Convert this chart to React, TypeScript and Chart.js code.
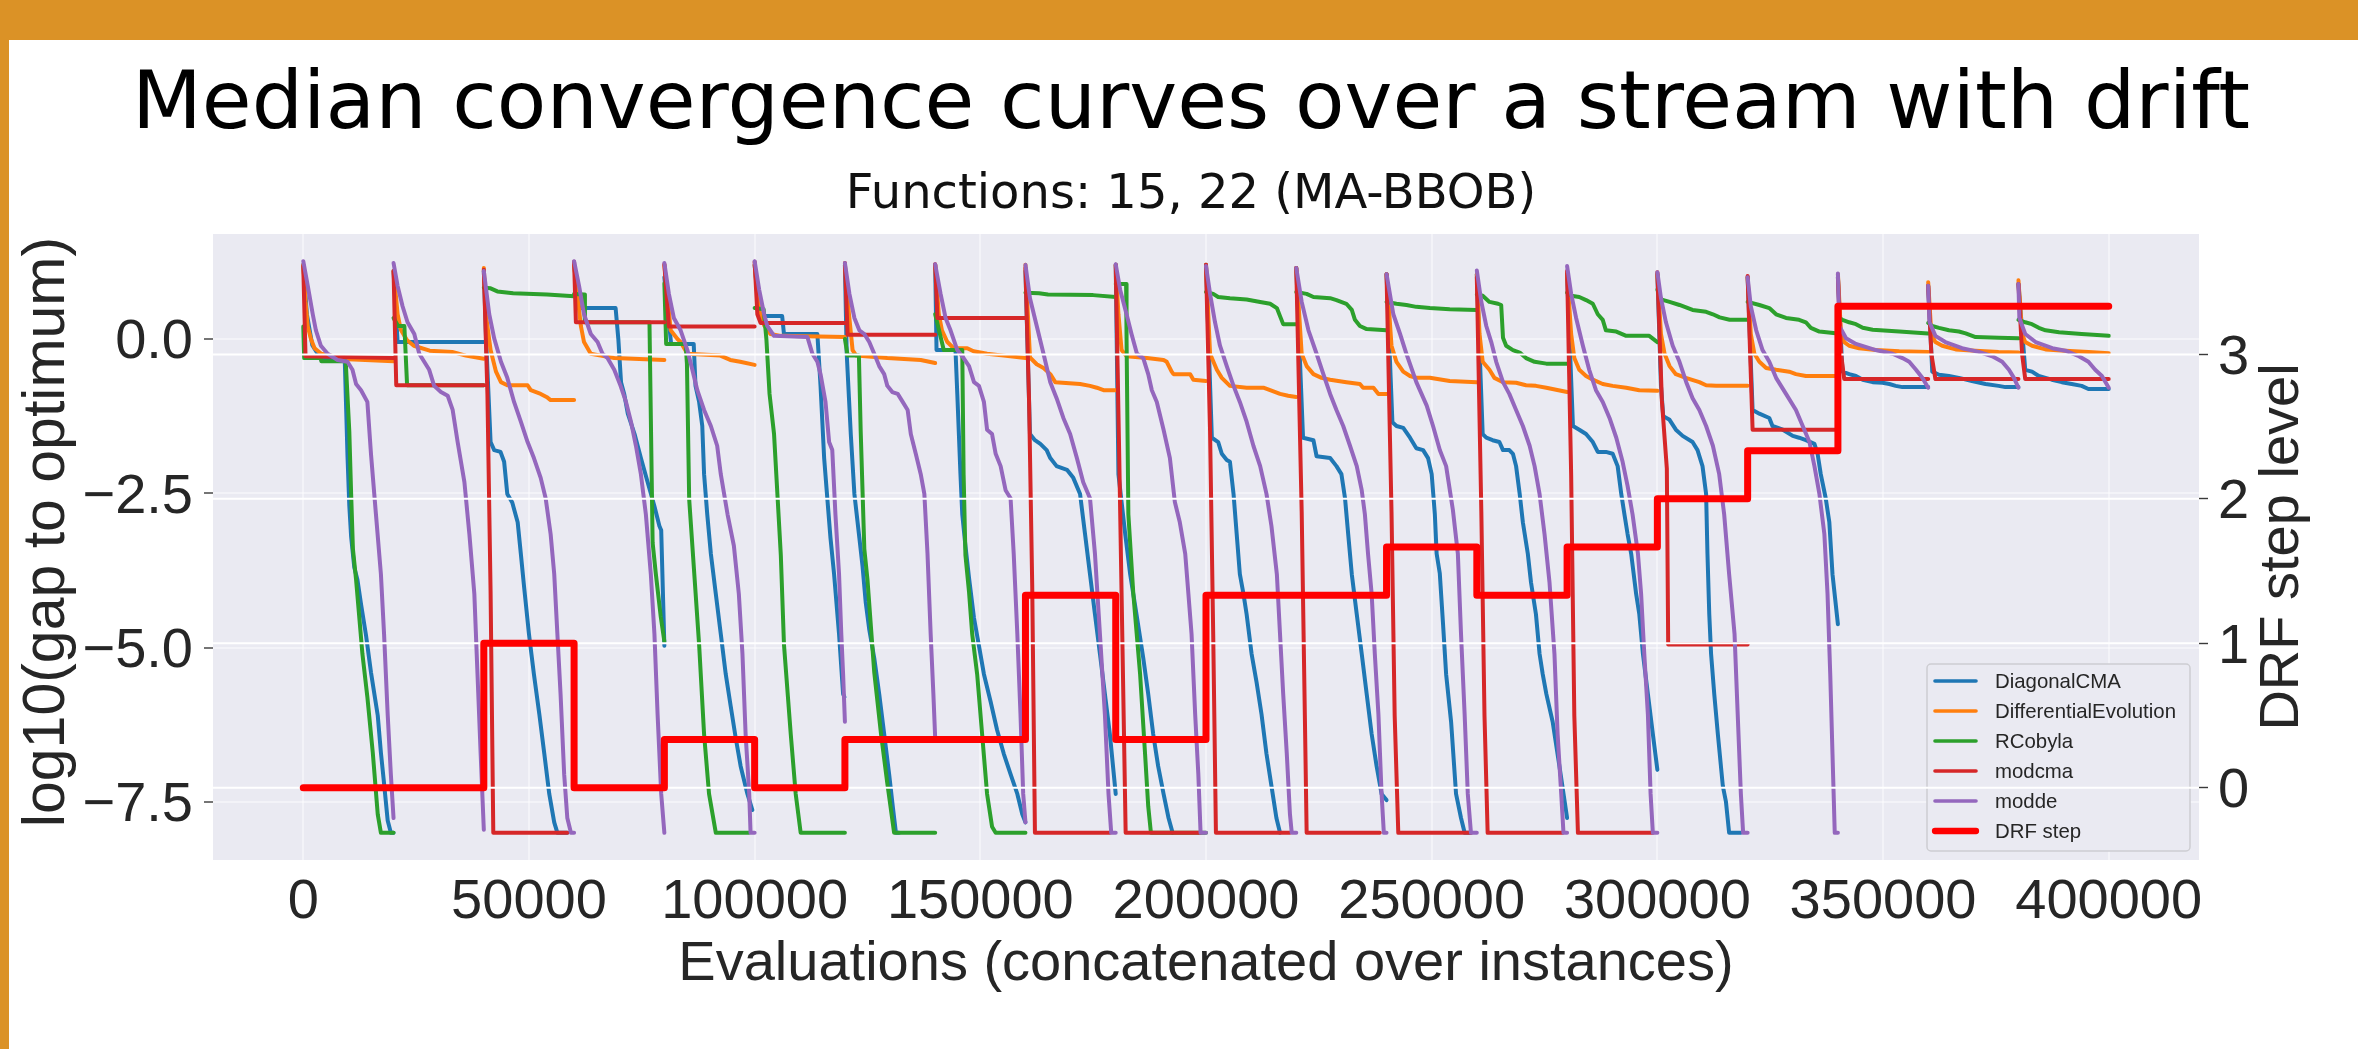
import { useEffect, useRef } from 'react';
import { Chart, registerables } from 'chart.js';

Chart.register(...registerables);

const W = 2358;
const H = 1049;

// ---------------- data ----------------
const INSTANCE_BUDGET = 20000; // evaluations per instance (20 instances concatenated)
const xTickValues = [0, 50000, 100000, 150000, 200000, 250000, 300000, 350000, 400000];
const gapTickValues = [-7.5, -5.0, -2.5, 0.0];
const drfTickValues = [0, 1, 2, 3];

// DRF step level per instance
const drfLevels = [0, 0, 1, 0, 1 / 3, 0, 1 / 3, 1 / 3, 4 / 3, 1 / 3, 4 / 3, 4 / 3, 5 / 3, 4 / 3, 5 / 3, 2, 7 / 3, 10 / 3, 10 / 3, 10 / 3];

// median log10(gap) curves, one list of [evaluations within instance, value] per instance
const diagonalCMA = [
  [[0, 1.2], [800, 0.4], [2000, -0.1], [4000, -0.33], [9200, -0.36], [9800, -1.9], [10200, -2.7], [10600, -3.2], [11300, -3.7], [12000, -3.9], [12800, -4.3], [13900, -4.8], [15000, -5.4], [16500, -6.1], [17200, -6.7], [17900, -7.2], [18700, -7.8], [19400, -8.0], [20000, -8.0]],
  [[0, 1.1], [900, -0.05], [20000, -0.05]],
  [[0, 1.1], [500, 0.0], [1500, -1.67], [2300, -1.8], [3700, -1.83], [4500, -1.99], [5200, -2.51], [6300, -2.65], [7500, -2.97], [8200, -3.48], [8900, -4.0], [10000, -4.78], [11100, -5.43], [12300, -6.08], [13400, -6.72], [14500, -7.37], [15600, -7.83], [16300, -8.0], [18500, -8.0]],
  [[0, 1.2], [1100, 0.5], [9200, 0.5], [9800, 0.0], [10400, -0.7], [11100, -0.89], [11900, -1.21], [13400, -1.54], [14800, -1.93], [16300, -2.32], [17800, -2.71], [18900, -3.03], [19300, -3.1], [20000, -4.97]],
  [[0, 1.0], [1500, -0.08], [6500, -0.08], [6900, -0.76], [7700, -1.02], [8400, -1.41], [8800, -2.19], [9500, -2.84], [10300, -3.48], [11400, -4.13], [12500, -4.78], [13600, -5.43], [14700, -5.95], [15800, -6.46], [16900, -6.92], [18400, -7.37], [19500, -7.63]],
  [[0, 1.2], [1000, 0.37], [6100, 0.37], [6500, 0.08], [13900, 0.08], [14600, -0.76], [15400, -1.93], [16100, -2.58], [16800, -3.22], [17600, -3.81], [18700, -4.78], [19600, -5.75], [19900, -5.8]],
  [[0, 1.2], [400, -0.24], [1300, -1.54], [2100, -2.51], [3200, -3.22], [3900, -3.68], [4600, -4.26], [5400, -4.71], [6500, -5.17], [7600, -5.75], [8700, -6.4], [9800, -7.05], [10600, -7.57], [11300, -8.0], [12000, -8.0]],
  [[0, 1.2], [300, -0.18], [4500, -0.18], [4900, -0.89], [5600, -2.19], [6000, -2.84], [6700, -3.35], [7500, -3.87], [8600, -4.52], [9700, -4.97], [10800, -5.43], [12300, -5.88], [13700, -6.33], [15200, -6.72], [16700, -7.05], [18200, -7.37], [19300, -7.7], [20000, -7.83]],
  [[0, 1.1], [1000, -1.54], [2100, -1.64], [3300, -1.7], [4700, -1.8], [5500, -1.93], [6900, -2.06], [9200, -2.12], [10600, -2.25], [12100, -2.51], [13200, -3.16], [14300, -3.81], [15400, -4.46], [16500, -5.1], [17600, -5.75], [18700, -6.4], [20000, -7.37]],
  [[0, 1.2], [600, -2.19], [2100, -3.16], [3200, -3.81], [4600, -4.46], [6100, -5.17], [7200, -5.75], [8300, -6.4], [9400, -6.92], [10600, -7.37], [11700, -7.76], [12600, -8.0]],
  [[0, 1.2], [1300, -1.6], [2700, -1.67], [3500, -1.86], [4600, -1.96], [5300, -1.99], [6100, -2.51], [6800, -3.16], [7500, -3.81], [8300, -4.13], [9000, -4.46], [10100, -5.1], [11200, -5.56], [12300, -6.08], [13400, -6.72], [14500, -7.24], [15600, -7.76], [16400, -8.0]],
  [[0, 1.15], [1500, -1.6], [3800, -1.64], [4500, -1.9], [7500, -1.93], [8900, -2.06], [10000, -2.19], [10800, -2.58], [11500, -3.16], [12300, -3.81], [13400, -4.46], [14500, -5.1], [15600, -5.75], [16700, -6.4], [17800, -6.92], [18900, -7.37], [20000, -7.47]],
  [[0, 1.05], [1300, -1.35], [2200, -1.41], [3700, -1.44], [5200, -1.6], [6600, -1.77], [8100, -1.8], [9200, -1.93], [10000, -2.19], [10700, -2.84], [11100, -3.48], [11800, -3.8], [12500, -4.6], [13200, -5.43], [14300, -6.2], [15400, -7.37], [16500, -7.76], [17300, -8.0], [18700, -8.0]],
  [[0, 1.05], [1300, -1.54], [2100, -1.6], [3500, -1.64], [5000, -1.67], [5800, -1.8], [7200, -1.8], [8000, -1.86], [8700, -2.06], [9500, -2.51], [10200, -2.97], [11300, -3.48], [12000, -3.94], [13100, -4.46], [13900, -5.1], [14600, -5.43], [15400, -5.75], [16800, -6.2], [18300, -6.92], [20000, -7.76]],
  [[0, 1.05], [1300, -1.41], [2700, -1.47], [4200, -1.54], [5700, -1.67], [6800, -1.83], [8600, -1.83], [10100, -1.86], [11200, -2.06], [12000, -2.51], [12700, -2.84], [13400, -3.16], [14200, -3.48], [15300, -4.13], [16000, -4.46], [16800, -5.1], [17900, -5.75], [19000, -6.4], [20000, -6.98]],
  [[0, 1.05], [800, -0.76], [1300, -1.25], [2700, -1.31], [4100, -1.47], [5600, -1.57], [7800, -1.67], [8900, -1.8], [10000, -2.06], [10800, -2.51], [11100, -3.48], [11500, -4.46], [11900, -5.1], [12600, -5.75], [13400, -6.4], [14500, -7.24], [15200, -7.5], [15900, -8.0], [18500, -8.0]],
  [[0, 1.0], [1100, -1.15], [2600, -1.21], [4800, -1.28], [5500, -1.41], [7800, -1.47], [10000, -1.57], [11400, -1.6], [12900, -1.64], [14800, -1.7], [15500, -1.86], [16200, -2.19], [17300, -2.58], [18100, -2.97], [18800, -3.81], [20000, -4.62]],
  [[0, 1.0], [1000, -0.53], [2500, -0.57], [4000, -0.6], [5500, -0.66], [7700, -0.7], [9900, -0.71], [11400, -0.73], [12800, -0.76], [14300, -0.78], [20000, -0.78]],
  [[0, 0.86], [900, -0.53], [2400, -0.58], [4600, -0.6], [6800, -0.63], [9700, -0.68], [12700, -0.73], [15600, -0.76], [17100, -0.78], [20000, -0.78]],
  [[0, 0.89], [1500, -0.5], [3000, -0.53], [4500, -0.6], [6000, -0.63], [7400, -0.66], [9600, -0.7], [11800, -0.73], [14000, -0.76], [15500, -0.81], [20000, -0.81]],
];

const differentialEvolution = [
  [[0, 1.2], [500, 0.6], [1000, 0.2], [1700, 0.0], [2500, -0.15], [4000, -0.24], [10000, -0.33], [20000, -0.36]],
  [[0, 1.1], [900, 0.4], [1600, 0.15], [3000, -0.02], [4500, -0.11], [8000, -0.19], [13000, -0.21], [16000, -0.27], [20000, -0.32]],
  [[0, 1.15], [450, 0.4], [1500, -0.18], [2700, -0.53], [3800, -0.7], [5200, -0.75], [9700, -0.75], [10400, -0.83], [12600, -0.89], [14100, -0.95], [14800, -0.99], [20000, -0.99]],
  [[0, 1.2], [1500, 0.21], [2200, -0.05], [3700, -0.24], [5900, -0.27], [8900, -0.31], [20000, -0.34]],
  [[0, 1.2], [1400, 0.14], [2900, 0.0], [3600, -0.05], [5100, -0.24], [12400, -0.27], [14600, -0.34], [16800, -0.37], [20000, -0.42]],
  [[0, 1.2], [1000, 0.47], [2100, 0.22], [3500, 0.08], [5800, 0.05], [20000, 0.03]],
  [[0, 1.2], [900, 0.4], [1700, -0.18], [2500, -0.27], [9400, -0.31], [16800, -0.34], [20000, -0.39]],
  [[0, 1.2], [800, 0.4], [1500, 0.14], [2700, -0.05], [4100, -0.15], [7100, -0.15], [8500, -0.2], [11500, -0.24], [15200, -0.27], [20000, -0.31]],
  [[0, 1.2], [1000, -0.3], [2500, -0.41], [4000, -0.47], [5500, -0.57], [6600, -0.7], [12100, -0.73], [14300, -0.76], [15800, -0.79], [17300, -0.83], [20000, -0.83]],
  [[0, 1.2], [600, 0.4], [1300, -0.18], [2400, -0.28], [6900, -0.31], [10600, -0.34], [11300, -0.37], [12400, -0.53], [12800, -0.57], [16500, -0.57], [17200, -0.66], [20000, -0.68]],
  [[0, 1.2], [900, -0.24], [2400, -0.5], [3500, -0.63], [5300, -0.76], [9000, -0.79], [12700, -0.79], [14200, -0.83], [16400, -0.89], [18200, -0.92], [20000, -0.94]],
  [[0, 1.15], [1200, -0.24], [2300, -0.44], [3800, -0.57], [5600, -0.63], [7500, -0.66], [11100, -0.7], [14100, -0.73], [14800, -0.79], [17100, -0.79], [18200, -0.89], [20000, -0.89]],
  [[0, 1.05], [1100, -0.11], [2200, -0.37], [3700, -0.53], [5200, -0.6], [6600, -0.63], [9600, -0.63], [14000, -0.68], [20000, -0.7]],
  [[0, 1.05], [600, 0.08], [1300, -0.37], [2800, -0.5], [3900, -0.63], [5800, -0.7], [8700, -0.71], [10900, -0.75], [13100, -0.76], [15400, -0.79], [20000, -0.86]],
  [[0, 1.05], [900, 0.08], [1600, -0.31], [2700, -0.5], [4200, -0.6], [5700, -0.66], [7900, -0.73], [10100, -0.76], [13100, -0.79], [16000, -0.83], [20000, -0.84]],
  [[0, 1.05], [800, 0.08], [1600, -0.24], [2700, -0.44], [4100, -0.57], [6300, -0.63], [9300, -0.7], [10800, -0.75], [13000, -0.76], [20000, -0.76]],
  [[0, 1.0], [700, 0.08], [1500, -0.24], [2600, -0.37], [4100, -0.47], [6300, -0.5], [9200, -0.53], [10700, -0.57], [12900, -0.6], [20000, -0.6]],
  [[0, 1.05], [700, 0.08], [1400, -0.05], [2500, -0.11], [4700, -0.15], [8400, -0.18], [13600, -0.2], [20000, -0.21]],
  [[0, 0.92], [700, 0.08], [1600, -0.05], [3100, -0.11], [6100, -0.17], [10500, -0.19], [15600, -0.21], [20000, -0.22]],
  [[0, 0.95], [800, 0.08], [1500, -0.05], [3000, -0.11], [6000, -0.17], [10400, -0.19], [15500, -0.21], [20000, -0.23]],
];

const rCobyla = [
  [[0, 0.2], [200, -0.31], [3900, -0.31], [4000, -0.36], [9400, -0.36], [10200, -1.5], [10600, -2.5], [11000, -3.4], [11700, -3.9], [12400, -4.5], [13100, -5.1], [14200, -5.8], [15400, -6.7], [16500, -7.7], [17200, -8.0], [20000, -8.0]],
  [[0, 0.34], [1000, 0.21], [2400, 0.21], [3000, -0.75], [20000, -0.75]],
  [[0, 0.83], [1500, 0.82], [3000, 0.77], [6500, 0.74], [14000, 0.72], [20000, 0.69]],
  [[0, 0.73], [2200, 0.72], [2400, 0.27], [16700, 0.27], [17400, -3.3], [18100, -3.8], [19200, -4.5], [20000, -4.9]],
  [[0, 0.9], [400, -0.08], [4700, -0.08], [5000, -0.4], [5500, -2.6], [7700, -4.95], [8800, -6.4], [9900, -7.37], [11400, -8.0], [18700, -8.0]],
  [[0, 0.5], [2000, 0.48], [2600, 0.0], [3300, -0.89], [4300, -1.54], [5800, -3.5], [6500, -4.95], [8000, -6.4], [9100, -7.37], [10200, -8.0], [20000, -8.0]],
  [[0, 0.0], [600, -0.27], [3100, -0.27], [3500, -1.5], [4300, -3.4], [5000, -3.9], [6500, -5.4], [8000, -6.4], [9400, -7.2], [10900, -8.0], [20000, -8.0]],
  [[0, 0.4], [1900, -0.18], [6000, -0.18], [6300, -2.2], [6700, -3.5], [7500, -4.1], [8200, -4.78], [9300, -5.43], [10400, -6.4], [11500, -7.37], [12600, -7.9], [13400, -8.0], [20000, -8.0]],
  [[0, 0.75], [3000, 0.74], [5000, 0.72], [15000, 0.71], [20000, 0.68]],
  [[0, 0.89], [2300, 0.89], [2400, 0.0], [2800, -2.84], [3900, -4.13], [5400, -5.43], [6500, -6.72], [7200, -7.57], [7800, -8.0], [20000, -8.0]],
  [[0, 0.76], [1600, 0.73], [2700, 0.68], [5300, 0.66], [9000, 0.64], [12000, 0.6], [14200, 0.57], [15700, 0.5], [16400, 0.37], [17100, 0.24], [20000, 0.24]],
  [[0, 0.76], [2300, 0.73], [3800, 0.68], [7500, 0.66], [8900, 0.63], [11100, 0.57], [12300, 0.47], [13000, 0.31], [14100, 0.21], [15600, 0.16], [20000, 0.14]],
  [[0, 0.6], [2200, 0.57], [4400, 0.55], [6600, 0.52], [9600, 0.5], [14000, 0.48], [20000, 0.47]],
  [[0, 0.72], [1300, 0.7], [2800, 0.6], [4700, 0.57], [5400, 0.55], [5800, 0.02], [6500, -0.11], [8000, -0.18], [9500, -0.22], [10900, -0.31], [12800, -0.37], [15400, -0.4], [20000, -0.4]],
  [[0, 0.75], [900, 0.7], [2700, 0.68], [4200, 0.63], [5700, 0.57], [6800, 0.4], [7900, 0.31], [8600, 0.14], [10900, 0.12], [13100, 0.05], [18200, 0.05], [20000, -0.05]],
  [[0, 0.8], [800, 0.64], [2700, 0.6], [4900, 0.55], [7800, 0.47], [10800, 0.44], [12300, 0.4], [13800, 0.35], [16000, 0.31], [20000, 0.31]],
  [[0, 0.6], [2600, 0.55], [4800, 0.5], [6300, 0.4], [8500, 0.34], [11400, 0.31], [12900, 0.27], [14000, 0.18], [15900, 0.12], [20000, 0.09]],
  [[0, 0.35], [1000, 0.31], [2500, 0.27], [4000, 0.24], [5500, 0.18], [7700, 0.15], [13600, 0.12], [20000, 0.09]],
  [[0, 0.26], [900, 0.21], [2400, 0.18], [4600, 0.14], [6800, 0.12], [8300, 0.09], [10500, 0.03], [15600, 0.02], [20000, 0.01]],
  [[0, 0.31], [1500, 0.27], [3000, 0.24], [4500, 0.18], [6000, 0.14], [9000, 0.11], [14000, 0.08], [20000, 0.05]],
];

const modcma = [
  [[0, 1.18], [500, -0.28], [20000, -0.31]],
  [[0, 1.1], [600, -0.75], [20000, -0.75]],
  [[0, 1.12], [800, -0.9], [1500, -4.1], [2100, -8.0], [18500, -8.0]],
  [[0, 1.25], [400, 0.27], [20000, 0.27]],
  [[0, 1.21], [1000, 0.2], [20000, 0.2]],
  [[0, 1.25], [600, 0.4], [1300, 0.26], [20000, 0.26]],
  [[0, 1.23], [600, 0.07], [20000, 0.07]],
  [[0, 1.21], [500, 0.34], [20000, 0.34]],
  [[0, 1.15], [800, -1.0], [1500, -4.0], [2100, -8.0], [18700, -8.0]],
  [[0, 1.2], [800, -2.0], [1500, -5.0], [2200, -8.0], [18700, -8.0]],
  [[0, 1.2], [900, -1.5], [1600, -4.8], [2200, -8.0], [18600, -8.0]],
  [[0, 1.15], [1200, -2.8], [1900, -6.1], [2300, -8.0], [18500, -8.0]],
  [[0, 1.05], [1100, -2.8], [1800, -6.1], [2600, -8.0], [18700, -8.0]],
  [[0, 1.0], [1000, -2.8], [1700, -6.1], [2400, -8.0], [19000, -8.0]],
  [[0, 1.1], [900, -2.2], [1600, -6.1], [2400, -8.0], [19000, -8.0]],
  [[0, 1.08], [1000, -1.0], [2100, -2.1], [2400, -4.95], [20000, -4.95]],
  [[0, 1.02], [700, -0.57], [1100, -1.47], [20000, -1.47]],
  [[0, 1.0], [700, -0.24], [1400, -0.65], [20000, -0.65]],
  [[0, 0.86], [700, -0.24], [1600, -0.65], [20000, -0.65]],
  [[0, 0.89], [800, -0.24], [1500, -0.65], [20000, -0.65]],
];

const modde = [
  [[0, 1.26], [1000, 0.86], [2100, 0.4], [2800, 0.14], [3900, -0.11], [5400, -0.24], [7600, -0.34], [9800, -0.37], [10900, -0.5], [11700, -0.73], [12800, -0.83], [14200, -1.02], [15000, -1.86], [16100, -2.84], [17200, -3.81], [17900, -4.78], [18700, -6.08], [19400, -7.05], [20000, -7.76]],
  [[0, 1.23], [900, 0.86], [2000, 0.53], [3100, 0.27], [4600, 0.08], [5700, -0.24], [6800, -0.37], [7900, -0.5], [9000, -0.76], [10500, -0.86], [12000, -0.92], [13100, -1.15], [14200, -1.67], [15700, -2.32], [16800, -3.16], [17900, -4.13], [18600, -5.43], [19300, -6.72], [20000, -7.95]],
  [[0, 1.1], [1200, 0.4], [2300, 0.01], [3800, -0.37], [5200, -0.63], [6700, -1.02], [8200, -1.34], [9700, -1.67], [11100, -1.93], [12600, -2.25], [13700, -2.58], [14800, -3.16], [15600, -3.81], [16300, -4.78], [17000, -5.75], [17800, -7.05], [18500, -7.76], [19300, -8.0], [20000, -8.0]],
  [[0, 1.26], [1100, 0.86], [2200, 0.4], [3700, 0.08], [5200, -0.05], [6300, -0.24], [7400, -0.31], [8900, -0.5], [10300, -0.76], [11500, -1.02], [12600, -1.34], [13700, -1.73], [14800, -2.19], [15900, -2.84], [17000, -3.81], [17800, -4.78], [18500, -6.08], [19300, -7.37], [20000, -8.0]],
  [[0, 1.23], [1000, 0.73], [2100, 0.34], [3600, 0.14], [5100, -0.18], [6200, -0.5], [7300, -0.83], [8800, -1.15], [10300, -1.41], [11700, -1.73], [12500, -2.19], [14000, -2.84], [15400, -3.35], [16500, -4.13], [17300, -5.1], [18000, -6.4], [18800, -7.37], [19100, -8.0], [20000, -8.0]],
  [[0, 1.26], [1000, 0.8], [2100, 0.4], [2800, 0.21], [4300, 0.05], [11700, 0.03], [12800, -0.24], [13900, -0.37], [14600, -0.57], [15700, -1.02], [16500, -1.67], [17200, -1.8], [17900, -2.84], [18700, -3.81], [19200, -4.78], [19600, -5.43], [20000, -6.2]],
  [[0, 1.23], [1000, 0.73], [2100, 0.34], [3200, 0.14], [4300, 0.08], [5400, -0.05], [6500, -0.24], [7600, -0.44], [8700, -0.57], [9400, -0.76], [10500, -0.86], [11700, -0.89], [12800, -1.02], [13900, -1.15], [14600, -1.54], [15700, -1.86], [16800, -2.19], [17600, -2.51], [18300, -3.48], [19000, -4.78], [19600, -5.75], [20000, -6.46]],
  [[0, 1.21], [1200, 0.73], [2300, 0.34], [3400, 0.14], [4900, -0.18], [6300, -0.31], [7500, -0.44], [8600, -0.7], [9700, -0.76], [10800, -1.02], [11500, -1.47], [12600, -1.54], [13400, -1.86], [14500, -2.06], [15600, -2.45], [16700, -2.58], [17400, -3.48], [18200, -4.78], [18900, -6.08], [19500, -7.37], [20000, -7.83]],
  [[0, 1.2], [1000, 0.66], [2500, 0.21], [4000, -0.24], [5500, -0.7], [6900, -0.96], [8400, -1.28], [9900, -1.54], [11400, -1.93], [12800, -2.32], [14300, -2.58], [15400, -3.48], [16500, -4.78], [17600, -6.08], [18400, -7.37], [19000, -8.0], [20000, -8.0]],
  [[0, 1.21], [1000, 0.79], [2400, 0.4], [3500, 0.08], [4700, -0.24], [6100, -0.31], [7200, -0.57], [8000, -0.83], [9100, -1.02], [10600, -1.47], [12000, -1.93], [13100, -2.64], [14200, -2.97], [15400, -3.48], [16100, -4.13], [16800, -4.78], [17600, -6.08], [18300, -7.05], [18800, -8.0], [20000, -8.0]],
  [[0, 1.18], [900, 0.73], [2000, 0.27], [3100, -0.11], [4600, -0.44], [6100, -0.76], [7500, -1.02], [9000, -1.34], [10500, -1.73], [12000, -2.06], [13400, -2.51], [14500, -3.03], [15700, -3.81], [16400, -4.78], [17100, -5.75], [17900, -6.72], [18600, -7.7], [19000, -8.0], [20000, -8.0]],
  [[0, 1.15], [1200, 0.6], [2700, 0.14], [4500, -0.24], [6000, -0.57], [7500, -0.89], [8900, -1.15], [10400, -1.41], [11900, -1.73], [13400, -2.06], [14500, -2.45], [15200, -2.84], [15900, -3.48], [16700, -4.13], [17400, -5.1], [18200, -6.08], [18900, -7.37], [19400, -8.0], [20000, -8.0]],
  [[0, 1.05], [1500, 0.4], [3000, 0.08], [4400, -0.24], [6600, -0.7], [8900, -1.08], [10300, -1.41], [11800, -1.8], [13200, -2.06], [14700, -2.77], [15800, -3.48], [16500, -4.78], [17300, -6.08], [18000, -7.37], [18700, -8.0], [20000, -8.0]],
  [[0, 1.11], [1000, 0.6], [2100, 0.21], [3200, -0.05], [4300, -0.37], [5800, -0.7], [7200, -0.89], [8700, -1.15], [10200, -1.41], [11700, -1.73], [12800, -2.06], [13900, -2.51], [15000, -3.16], [16100, -3.94], [17200, -5.1], [17900, -6.4], [18700, -7.37], [19200, -8.0], [20000, -8.0]],
  [[0, 1.18], [900, 0.73], [2000, 0.34], [3500, -0.11], [4900, -0.5], [6400, -0.83], [7900, -1.02], [9400, -1.28], [10900, -1.6], [12300, -1.99], [13400, -2.38], [14500, -2.84], [15700, -3.48], [16400, -4.13], [17100, -5.1], [17900, -6.08], [18500, -7.37], [19000, -8.0], [20000, -8.0]],
  [[0, 1.08], [800, 0.66], [1900, 0.27], [3400, -0.11], [4900, -0.37], [6400, -0.7], [7800, -0.96], [9300, -1.15], [10800, -1.41], [12300, -1.73], [13700, -2.19], [14800, -2.84], [15900, -3.81], [17100, -4.78], [17800, -6.08], [18500, -7.37], [19000, -8.0], [20000, -8.0]],
  [[0, 1.0], [700, 0.53], [1900, 0.14], [3300, -0.18], [4800, -0.37], [6300, -0.63], [8500, -0.89], [10700, -1.15], [12200, -1.41], [13700, -1.67], [14800, -2.06], [15900, -2.51], [17000, -3.16], [17700, -4.13], [18300, -5.43], [18800, -6.72], [19300, -8.0], [20000, -8.0]],
  [[0, 1.06], [300, 0.21], [1800, 0.01], [4000, -0.08], [8400, -0.18], [12100, -0.24], [14300, -0.31], [15800, -0.37], [17300, -0.5], [18700, -0.63], [20000, -0.79]],
  [[0, 0.86], [300, 0.27], [1600, 0.05], [3800, -0.05], [7500, -0.15], [11200, -0.21], [14200, -0.28], [16400, -0.37], [17900, -0.5], [19000, -0.63], [20000, -0.79]],
  [[0, 0.89], [200, 0.34], [1500, 0.08], [3800, -0.05], [7500, -0.15], [10400, -0.19], [13400, -0.28], [15500, -0.37], [17000, -0.5], [18500, -0.6], [20000, -0.79]],
];

// ---------------- styling ----------------
const ORANGE_FRAME = '#DB9226';
const AXES_BG = '#EAEAF2';
const TEXT = '#262626';
const SANS = "'Liberation Sans', Arial, sans-serif";
const TITLE_FONT = "'DejaVu Sans', sans-serif";

function toPoints(segments: number[][][]) {
  const pts: { x: number; y: number | null }[] = [];
  segments.forEach((seg, k) => {
    const offset = k * INSTANCE_BUDGET;
    seg.forEach(([e, v]) => pts.push({ x: offset + e, y: v }));
    pts.push({ x: offset + seg[seg.length - 1][0], y: null });
  });
  return pts;
}

function drfPoints() {
  const pts = drfLevels.map((v, k) => ({ x: k * INSTANCE_BUDGET, y: v }));
  pts.push({ x: drfLevels.length * INSTANCE_BUDGET, y: drfLevels[drfLevels.length - 1] });
  return pts;
}

function drawLegend(chart: any) {
  const { ctx, chartArea: a } = chart;
  const w = 263;
  const h = 187;
  const x0 = a.right - 9 - w;
  const y0 = a.bottom - 9 - h;
  ctx.save();
  ctx.beginPath();
  if (ctx.roundRect) ctx.roundRect(x0, y0, w, h, 4);
  else ctx.rect(x0, y0, w, h);
  ctx.fillStyle = AXES_BG;
  ctx.fill();
  ctx.strokeStyle = '#CDCDD2';
  ctx.lineWidth = 1.5;
  ctx.stroke();
  ctx.font = `20.4px ${SANS}`;
  ctx.textAlign = 'left';
  ctx.textBaseline = 'alphabetic';
  chart.data.datasets.forEach((ds: any, i: number) => {
    const cy = y0 + 17 + i * 30;
    ctx.beginPath();
    ctx.strokeStyle = ds.borderColor;
    ctx.lineWidth = ds.borderWidth * 0.9;
    ctx.lineCap = 'round';
    ctx.moveTo(x0 + 8, cy);
    ctx.lineTo(x0 + 49, cy);
    ctx.stroke();
    ctx.fillStyle = TEXT;
    ctx.fillText(ds.label, x0 + 68, cy + 7);
  });
  ctx.restore();
}

const seabornPlugin = {
  id: 'seabornTwin',
  beforeDraw(chart: any) {
    const { ctx, chartArea: a } = chart;
    ctx.save();
    ctx.fillStyle = '#ffffff';
    ctx.fillRect(0, 0, chart.width, chart.height);
    ctx.fillStyle = AXES_BG;
    ctx.fillRect(a.left, a.top, a.right - a.left, a.bottom - a.top);
    ctx.restore();
  },
  beforeDatasetDraw(chart: any, args: any) {
    const ds = chart.data.datasets[args.index];
    if (ds.yAxisID !== 'y2') return;
    drawLegend(chart);
    // twin-axis grid is drawn above the left-axis curves
    const { ctx, chartArea: a } = chart;
    const s = chart.scales.y2;
    ctx.save();
    ctx.strokeStyle = '#ffffff';
    ctx.lineWidth = 2;
    s.ticks.forEach((t: any) => {
      const y = s.getPixelForValue(t.value);
      ctx.beginPath();
      ctx.moveTo(a.left, y);
      ctx.lineTo(a.right, y);
      ctx.stroke();
    });
    ctx.restore();
  },
  afterDraw(chart: any) {
    const { ctx, chartArea: a } = chart;
    const cy = (a.top + a.bottom) / 2;
    ctx.save();
    ctx.font = `59px ${SANS}`;
    ctx.fillStyle = TEXT;
    ctx.textAlign = 'center';
    ctx.textBaseline = 'alphabetic';
    ctx.translate(chart.scales.y.left + 40, cy - 15);
    ctx.rotate(-Math.PI / 2);
    ctx.fillText('log10(gap to optimum)', 0, 0);
    ctx.restore();
    ctx.save();
    ctx.font = `56px ${SANS}`;
    ctx.fillStyle = TEXT;
    ctx.textAlign = 'center';
    ctx.textBaseline = 'alphabetic';
    ctx.translate(chart.scales.y2.right - 60, cy);
    ctx.rotate(-Math.PI / 2);
    ctx.fillText('DRF step level', 0, 0);
    ctx.restore();
  },
};

const lineDefaults = {
  pointRadius: 0,
  pointHoverRadius: 0,
  pointHitRadius: 0,
  tension: 0,
  spanGaps: false,
  fill: false,
  borderJoinStyle: 'round',
  borderCapStyle: 'round',
};

export default function App() {
  const ref = useRef<HTMLCanvasElement>(null);

  useEffect(() => {
    document.body.style.margin = '0';
    document.body.style.overflow = 'hidden';
    const canvas = ref.current;
    if (!canvas) return;

    const algos = [
      { label: 'DiagonalCMA', color: '#1f77b4', data: diagonalCMA, order: 5 },
      { label: 'DifferentialEvolution', color: '#ff7f0e', data: differentialEvolution, order: 4 },
      { label: 'RCobyla', color: '#2ca02c', data: rCobyla, order: 3 },
      { label: 'modcma', color: '#d62728', data: modcma, order: 2 },
      { label: 'modde', color: '#9467bd', data: modde, order: 1 },
    ];

    const datasets: any[] = algos.map((a) => ({
      ...lineDefaults,
      label: a.label,
      data: toPoints(a.data),
      borderColor: a.color,
      backgroundColor: a.color,
      borderWidth: 4,
      yAxisID: 'y',
      order: a.order,
    }));
    datasets.push({
      ...lineDefaults,
      label: 'DRF step',
      data: drfPoints(),
      borderColor: '#ff0000',
      backgroundColor: '#ff0000',
      borderWidth: 7,
      stepped: 'before',
      yAxisID: 'y2',
      order: 0,
    });

    const tickFont = { family: SANS, size: 56 };
    const faintGrid = 'rgba(255,255,255,0.45)';

    const chart = new Chart(canvas, {
      type: 'line',
      data: { datasets },
      plugins: [seabornPlugin],
      options: {
        animation: false,
        responsive: false,
        events: [],
        layout: { padding: { left: 24, right: 0, top: 0, bottom: 0 } },
        plugins: {
          legend: { display: false },
          tooltip: { enabled: false },
          title: {
            display: true,
            text: 'Median convergence curves over a stream with drift',
            color: '#000000',
            font: { family: TITLE_FONT, size: 81, weight: 'normal' },
            padding: { top: 58, bottom: 0 },
          },
          subtitle: {
            display: true,
            text: 'Functions: 15, 22 (MA-BBOB)',
            color: '#111111',
            font: { family: TITLE_FONT, size: 48, weight: 'normal' },
            padding: { top: 11.5, bottom: 9.7 },
          },
        },
        scales: {
          x: {
            type: 'linear',
            min: -20000,
            max: 420000,
            afterFit: (s: any) => { s.height = 189; },
            afterBuildTicks: (s: any) => { s.ticks = xTickValues.map((v) => ({ value: v })); },
            border: { display: false },
            grid: { color: faintGrid, lineWidth: 2, drawTicks: false },
            ticks: {
              font: tickFont,
              color: TEXT,
              padding: 9,
              autoSkip: false,
              maxRotation: 0,
              minRotation: 0,
              callback: (v: any) => String(v),
            },
            title: {
              display: true,
              text: 'Evaluations (concatenated over instances)',
              color: TEXT,
              font: { family: SANS, size: 56 },
              padding: { top: 0, bottom: 51 },
            },
          },
          y: {
            type: 'linear',
            position: 'left',
            min: -8.44,
            max: 1.7,
            afterFit: (s: any) => { s.width = 189; },
            afterBuildTicks: (s: any) => { s.ticks = gapTickValues.map((v) => ({ value: v })); },
            border: { display: false },
            grid: { color: faintGrid, lineWidth: 2, drawTicks: true, tickLength: 9, tickColor: '#3a3a3a', tickWidth: 1.4 },
            ticks: {
              font: tickFont,
              color: TEXT,
              padding: 11,
              labelOffset: 4,
              callback: (v: any) => (v === 0 ? '0.0' : (v < 0 ? '\u2212' : '') + Math.abs(v).toFixed(1)),
            },
          },
          y2: {
            type: 'linear',
            position: 'right',
            min: -0.5,
            max: drfLevels[drfLevels.length - 1] + 0.5,
            afterFit: (s: any) => { s.width = 159; },
            afterBuildTicks: (s: any) => { s.ticks = drfTickValues.map((v) => ({ value: v })); },
            border: { display: false },
            grid: { drawOnChartArea: false, drawTicks: true, tickLength: 9, tickColor: '#3a3a3a', tickWidth: 1.4 },
            ticks: {
              font: tickFont,
              color: TEXT,
              padding: 10,
              labelOffset: 4,
              callback: (v: any) => String(v),
            },
          },
        },
      } as any,
    });

    return () => chart.destroy();
  }, []);

  return (
    <div style={{ position: 'relative', width: W, height: H, background: '#ffffff', overflow: 'hidden' }}>
      <canvas ref={ref} width={W} height={H} style={{ position: 'absolute', left: 0, top: 0, width: W, height: H }} />
      <div style={{ position: 'absolute', left: 0, top: 0, width: W, height: 40, background: ORANGE_FRAME }} />
      <div style={{ position: 'absolute', left: 0, top: 0, width: 9, height: H, background: ORANGE_FRAME }} />
    </div>
  );
}
